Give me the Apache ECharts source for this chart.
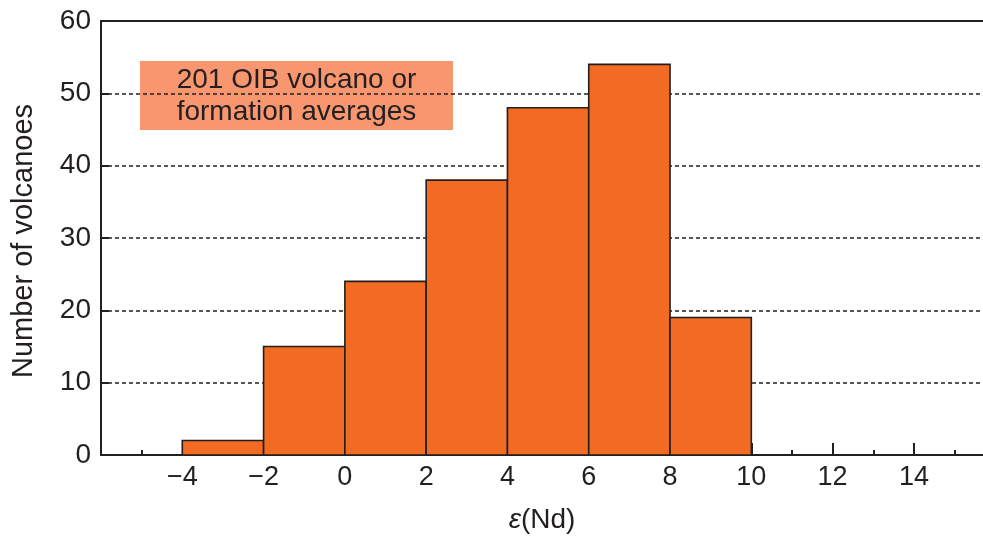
<!DOCTYPE html>
<html>
<head>
<meta charset="utf-8">
<script src="https://cdn.jsdelivr.net/npm/echarts@6/dist/echarts.min.js"></script>
<style>
  html, body { margin: 0; padding: 0; background: #fff; }
  #chart { width: 983px; height: 539px; }
</style>
</head>
<body>
<div id="chart"></div>
<script>
// Histogram of εNd for ocean-island basalt volcanoes
const binStarts = [-4, -2, 0, 2, 4, 6, 8];
const binWidth = 2;
const counts = [2, 15, 24, 38, 48, 54, 19];
const yTicks = [0, 10, 20, 30, 40, 50, 60];
const xTicks = [-4, -2, 0, 2, 4, 6, 8, 10, 12, 14];
const noteLines = ['201 OIB volcano or', 'formation averages'];

const ink = '#231f20';
const fontFamily = '"Liberation Sans", Arial, Helvetica, sans-serif';

const bins = binStarts.map((s, i) => [s, s + binWidth, counts[i]]);

const chart = echarts.init(document.getElementById('chart'), null, { renderer: 'canvas' });

const minus = v => String(v).replace('-', '\u2212');

chart.setOption({
  animation: false,
  backgroundColor: '#ffffff',
  grid: { left: 101, right: 0, top: 21, bottom: 82, containLabel: false },
  xAxis: [{
    type: 'value',
    min: -6,
    max: 15.7,
    interval: 2,
    position: 'bottom',
    name: '{e|ε}(Nd)',
    nameLocation: 'middle',
    nameGap: 51,
    nameTextStyle: {
      color: ink, fontSize: 28, fontFamily: fontFamily,
      rich: { e: { fontStyle: 'italic', fontSize: 28, fontFamily: fontFamily, color: ink } }
    },
    axisLine: { show: true, onZero: false, lineStyle: { color: ink, width: 2 } },
    axisTick: { show: true, inside: true, length: 12, lineStyle: { color: ink, width: 2 },
      customValues: xTicks },
    minorTick: { show: true, splitNumber: 2, length: 5, lineStyle: { color: ink, width: 2 } },
    axisLabel: {
      color: ink, fontSize: 27, fontFamily: fontFamily, margin: 9,
      customValues: xTicks,
      formatter: v => minus(v)
    },
    splitLine: { show: false }
  }, {
    type: 'value',
    min: -6,
    max: 15.7,
    position: 'top',
    axisLine: { show: true, onZero: false, lineStyle: { color: ink, width: 2 } },
    axisTick: { show: false },
    axisLabel: { show: false },
    splitLine: { show: false }
  }],
  yAxis: {
    type: 'value',
    min: 0,
    max: 60,
    interval: 10,
    name: 'Number of volcanoes',
    nameLocation: 'middle',
    nameGap: 63,
    nameTextStyle: { color: ink, fontSize: 29, fontFamily: fontFamily, padding: [0, 6, 0, 0] },
    axisLine: { show: true, onZero: false, lineStyle: { color: ink, width: 2 } },
    axisTick: { show: true, inside: true, length: 8, lineStyle: { color: ink, width: 2 } },
    axisLabel: {
      color: ink, fontSize: 28, fontFamily: fontFamily, margin: 10,
      customValues: yTicks
    },
    splitLine: {
      show: true,
      lineStyle: { color: ink, width: 1.5, type: [4, 3] }
    }
  },
  series: [{
    type: 'custom',
    xAxisIndex: 0,
    data: bins,
    z: 3,
    renderItem: function (params, api) {
      const p0 = api.coord([api.value(0), api.value(2)]);
      const p1 = api.coord([api.value(1), 0]);
      return {
        type: 'rect',
        shape: { x: p0[0], y: p0[1], width: p1[0] - p0[0], height: p1[1] - p0[1] },
        style: { fill: '#f36a23', stroke: ink, lineWidth: 1.6 }
      };
    }
  }],
  graphic: [{
    type: 'group',
    left: 140,
    top: 61,
    z: 10,
    children: [{
      type: 'rect',
      shape: { x: 0, y: 0, width: 313, height: 69 },
      style: { fill: '#f7966f' }
    }, {
      type: 'text',
      x: 156.5,
      y: 35,
      style: {
        text: noteLines.join('\n'),
        fill: ink,
        font: '28px ' + fontFamily,
        align: 'center',
        verticalAlign: 'middle',
        lineHeight: 32
      }
    }]
  }]
});
</script>
</body>
</html>
